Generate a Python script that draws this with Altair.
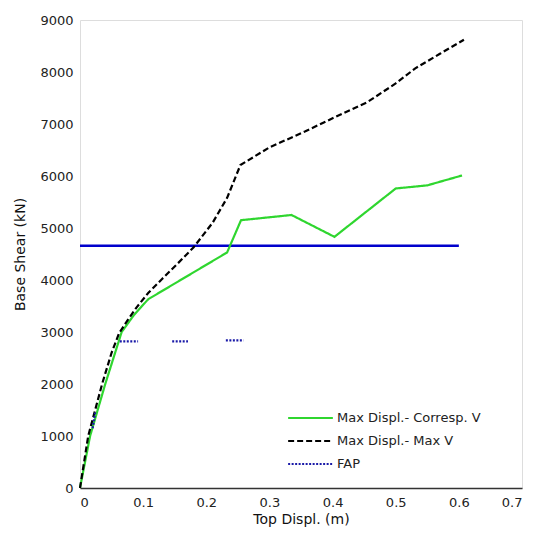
import altair as alt
import pandas as pd

# Max Displ. - Corresp. V (green)
green_x = [0, 0.016, 0.04, 0.066, 0.085, 0.108, 0.233, 0.255, 0.335, 0.403, 0.50, 0.55, 0.605]
green_y = [0, 1000, 2000, 3000, 3320, 3630, 4530, 5150, 5250, 4830, 5760, 5820, 6010]

# Max Displ. - Max V (black dashed)
black_x = [0, 0.013, 0.035, 0.05, 0.062, 0.075, 0.09, 0.108, 0.13, 0.155, 0.18, 0.21, 0.233, 0.254, 0.30, 0.357, 0.40, 0.455, 0.50, 0.531, 0.57, 0.608]
black_y = [0, 1000, 2000, 2600, 2980, 3220, 3480, 3750, 4020, 4320, 4630, 5100, 5580, 6210, 6550, 6860, 7110, 7420, 7780, 8070, 8350, 8620]

# FAP (blue dotted fragments)
fap_seg = [1, 1, 2, 2, 3, 3, 4, 4]
fap_x = [0.020, 0.024, 0.063, 0.092, 0.146, 0.171, 0.231, 0.259]
fap_y = [1150, 1450, 2820, 2820, 2820, 2820, 2840, 2840]

# horizontal reference level
ref_x = [0, 0.6]
ref_y = [4660, 4660]

series_names = ["Max Displ.- Corresp. V", "Max Displ.- Max V", "FAP"]

rows = []
for x, y in zip(green_x, green_y):
    rows.append({"x": x, "y": y, "s": series_names[0], "seg": 0})
for x, y in zip(black_x, black_y):
    rows.append({"x": x, "y": y, "s": series_names[1], "seg": 0})
for sg, x, y in zip(fap_seg, fap_x, fap_y):
    rows.append({"x": x, "y": y, "s": series_names[2], "seg": sg})
df = pd.DataFrame(rows)
df_ref = pd.DataFrame({"x": ref_x, "y": ref_y})

FONT = "DejaVu Sans"

xs = alt.Scale(domain=[0, 0.7], nice=False, zero=False)
ys = alt.Scale(domain=[0, 9000], nice=False)

xax = alt.Axis(values=[0, 0.1, 0.2, 0.3, 0.4, 0.5, 0.6, 0.7], format=".1~f",
               title="Top Displ. (m)", grid=False, domainColor="#333", domainWidth=1.5,
               ticks=False, labelFontSize=13, labelColor="#222",
               titleFontSize=14, titleFontWeight="normal", titleColor="#111",
               labelPadding=8, titlePadding=3, labelFont=FONT, titleFont=FONT)
yax = alt.Axis(values=list(range(0, 9001, 1000)), format="d", title="Base Shear (kN)",
               grid=False, domain=False, ticks=False, labelFontSize=13, labelColor="#222",
               titleFontSize=14, titleFontWeight="normal", titleColor="#111",
               labelPadding=7, titlePadding=12, labelFont=FONT, titleFont=FONT)

leg = alt.Legend(title=None, orient="none", legendX=207, legendY=389,
                 symbolType="stroke", symbolSize=2000, symbolStrokeWidth=2.2,
                 clipHeight=18, labelFontSize=13, labelFont=FONT, labelColor="#222",
                 rowPadding=5, labelOffset=3)

lines = alt.Chart(df).mark_line(strokeWidth=2.2).encode(
    x=alt.X("x:Q", scale=xs, axis=xax),
    y=alt.Y("y:Q", scale=ys, axis=yax),
    color=alt.Color("s:N", scale=alt.Scale(domain=series_names,
                                           range=["#2fd62f", "#000000", "#1a1aa8"]),
                    legend=leg),
    strokeDash=alt.StrokeDash("s:N", scale=alt.Scale(domain=series_names,
                                                     range=[[1, 0], [6, 3], [2, 1.5]]),
                              legend=leg),
    detail="seg:N",
    order="x:Q",
)

ref = alt.Chart(df_ref).mark_line(color="#0000cc", strokeWidth=2.5).encode(
    x=alt.X("x:Q", scale=xs),
    y=alt.Y("y:Q", scale=ys),
)

chart = alt.layer(ref, lines).properties(
    width=442, height=468,
    autosize=alt.AutoSizeParams(type="none"),
    padding={"left": 80, "top": 20, "right": 17, "bottom": 47},
).configure_view(stroke=None).configure(background="white")

chart.save("out.html", embed_options={"renderer": "svg", "actions": False})
